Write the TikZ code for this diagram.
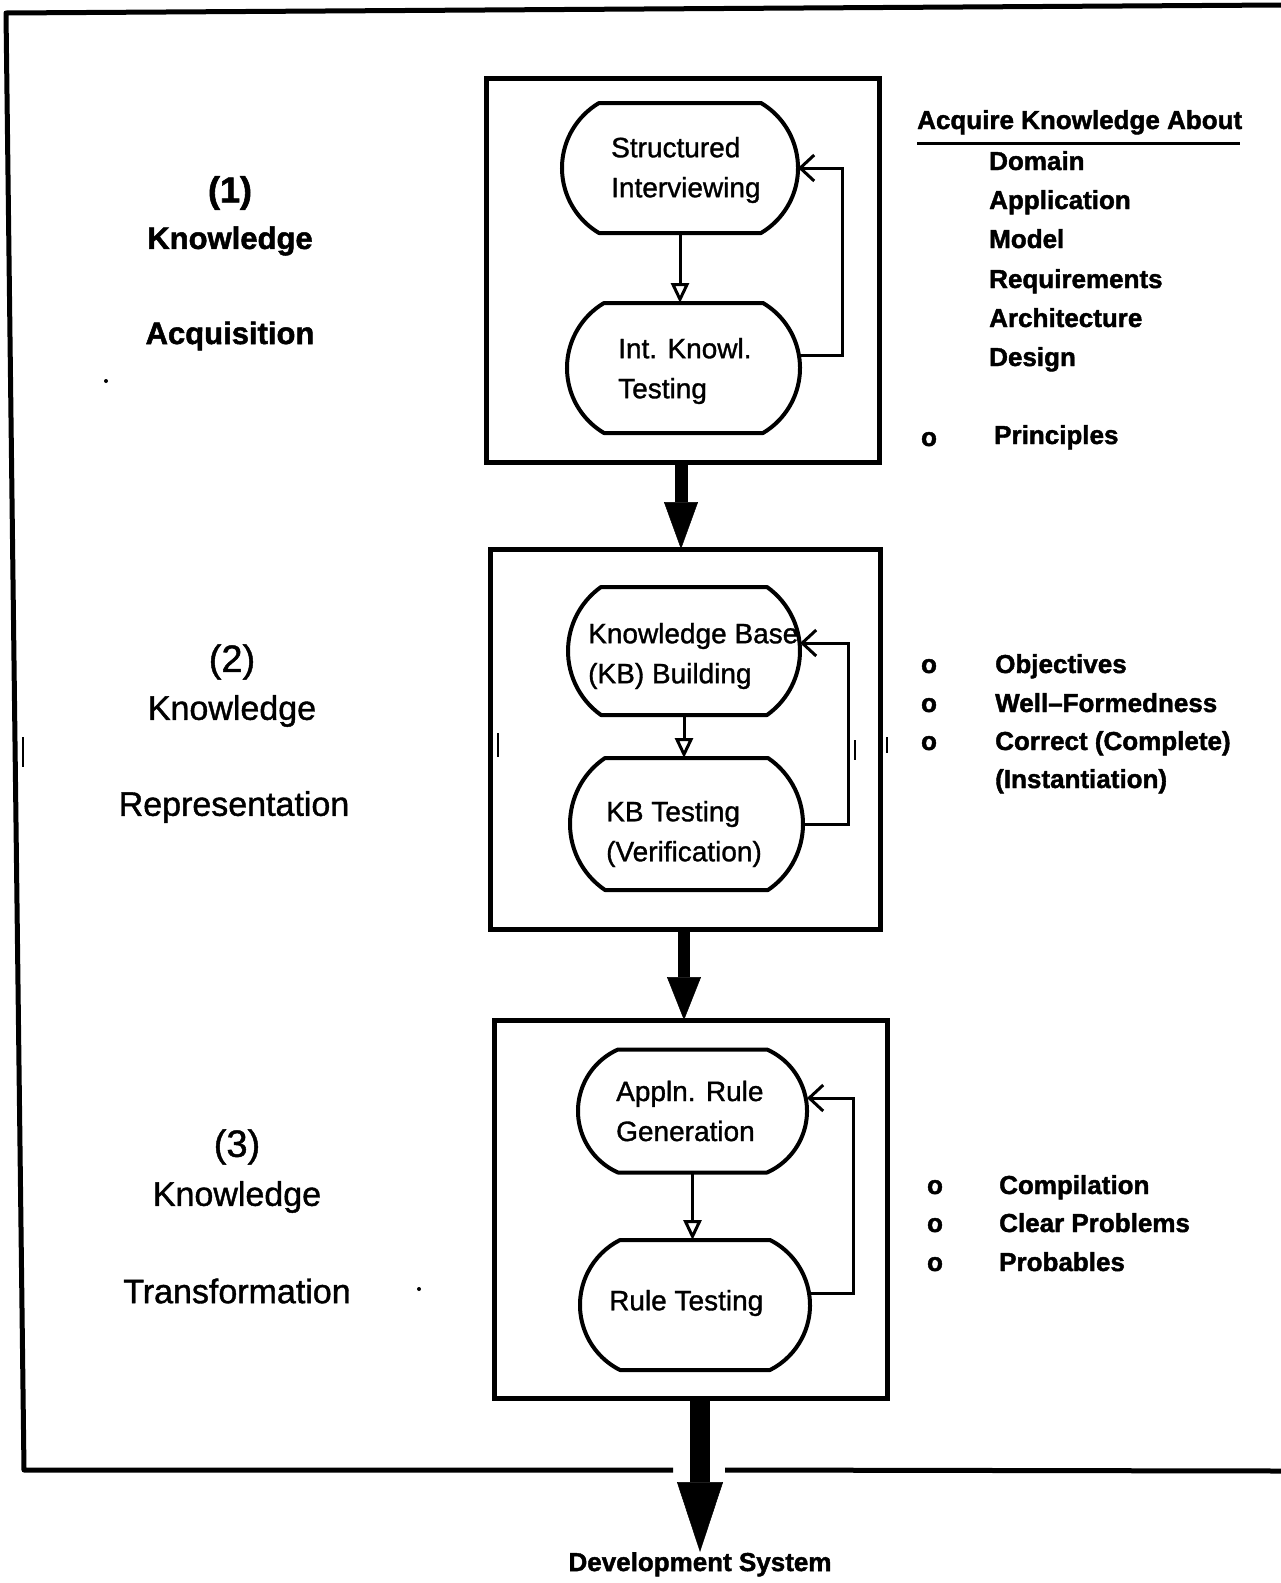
\documentclass[tikz,border=0pt]{standalone}
\usepackage{fontspec}
\setmainfont{Liberation Sans}
\newfontfamily\plotfont[FakeBold=1.2]{Liberation Sans}
\newfontfamily\plotbold[FakeBold=1.6]{Liberation Sans Bold}
\usetikzlibrary{arrows.meta}

% Rounded-end process shape: a plain node carries the anchors,
% the outline has a flat top/bottom and circular bulging ends.
\newcommand\procshape[6]{% name, cx, cy, width, height, end inset
  \node[minimum width=#4pt, minimum height=#5pt, inner sep=0pt, outer sep=0pt] (#1) at (#2,#3) {};
  \pgfmathsetmacro\psR{((#6)^2+(#5/2)^2)/(2*(#6))}
  \pgfmathsetmacro\psT{asin((#5/2)/\psR)}
  \draw[procline] ({#2-#4/2+#6},{#3-#5/2}) -- ({#2+#4/2-#6},{#3-#5/2})
     arc[start angle=-\psT, end angle=\psT, radius=\psR]
     -- ({#2-#4/2+#6},{#3+#5/2})
     arc[start angle=180-\psT, end angle=180+\psT, radius=\psR] -- cycle;
}

\begin{document}
\begin{tikzpicture}[x=1pt,y=-1pt,
  frame/.style={line width=5pt, line join=round},
  stagebox/.style={draw, line width=5pt, inner sep=0pt, outer sep=0pt},
  procline/.style={line width=4pt, line join=round},
  proctext/.style={anchor=west, align=left, font=\plotfont\fontsize{28}{40}\selectfont, inner sep=0pt},
  flow/.style={line width=3pt, -{Triangle[open, length=20pt, width=18pt]}},
  loopback/.style={line width=3pt, line join=miter, -{Straight Barb[length=14pt, width=26pt]}},
  bigflow/.style={-{Triangle[length=#1pt, width=34pt, line width=0.5pt]}},
  phase/.style={font=\plotfont\fontsize{34}{40}\selectfont, inner sep=0pt},
  phasebold/.style={font=\plotbold\fontsize{31}{36}\selectfont, inner sep=0pt},
  topic/.style={anchor=base west, font=\plotbold\fontsize{26}{30}\selectfont, inner sep=0pt},
  bullet/.style={anchor=base, font=\plotbold\fontsize{26}{30}\selectfont, inner sep=0pt},
  tick/.style={line width=2.5pt},
]
\useasboundingbox (0,0) rectangle (1281,1583);

% outer frame, open on the right
\coordinate (ftr) at (1281,5);
\coordinate (ftl) at (6,13);
\coordinate (fbl) at (24,1470);
\coordinate (fgl) at (673,1470);
\coordinate (fgr) at (725,1470);
\coordinate (fbr) at (1281,1471);
\draw[frame] (ftr) -- (ftl) -- (fbl) -- (fgl);
\draw[frame] (fgr) -- (fbr);

% stage boxes
\node[stagebox, minimum width=393pt, minimum height=384pt] (b1) at (682.5,270) {};
\node[stagebox, minimum width=390pt, minimum height=380pt] (b2) at (685,739) {};
\node[stagebox, minimum width=393pt, minimum height=378pt] (b3) at (690.5,1209) {};

% stage 1
\procshape{s1}{680}{168}{236}{130}{37}
\procshape{s2}{683.5}{368}{233}{130}{37}
\node[proctext] (s1t) at (611,170) {Structured\\Interviewing};
\node[proctext] (s2t) at (618,371) {Int. Knowl.\\Testing};
\draw[flow] (s1.south) -- (s1.south |- s2.north);
\draw[loopback] ([yshift=13pt]s2.east) -- ++(42,0) |- (s1.east);

% stage 2
\procshape{s3}{684}{651}{232}{128}{33}
\procshape{s4}{686.5}{824}{233}{132}{35}
\node[proctext] (s3t) at (588,656) {Knowledge Base\\(KB) Building};
\node[proctext] (s4t) at (606,834) {KB Testing\\(Verification)};
\draw[flow] (s3.south) -- (s3.south |- s4.north);
\draw[loopback] (s4.east) -- ++(45,0) |- ([yshift=8pt]s3.east);

% stage 3
\procshape{s5}{692.5}{1111}{229}{123}{40}
\procshape{s6}{695}{1305}{230}{130}{40}
\node[proctext] (s5t) at (616,1111) {Appln. Rule\\Generation};
\node[proctext] (s6t) at (609,1303) {Rule Testing};
\draw[flow] (s5.south) -- (s5.south |- s6.north);
\draw[loopback] ([yshift=12pt]s6.east) -- ++(43,0) |- ([yshift=13pt]s5.east);

% flow between stages
\node[font=\plotbold\fontsize{26}{30}\selectfont, inner sep=0pt, anchor=north] (dev) at (700,1552) {Development System};
\draw[bigflow=47, line width=13pt] (b1.south -| 681,0) -- (b2.north -| 681,0);
\draw[bigflow=43, line width=12pt] (b2.south -| 684,0) -- (b3.north -| 684,0);
\draw[-{Triangle[length=70pt, width=46pt, line width=0.5pt]}, line width=20pt] (b3.south -| dev.north) -- (dev.north);

% phase names
\node[phasebold, font=\plotbold\fontsize{36}{40}\selectfont] (p1n) at (230,193) {(1)};
\node[phasebold] (p1a) at (230,241) {Knowledge};
\node[phasebold] (p1b) at (230,336) {Acquisition};
\node[phase, font=\plotfont\fontsize{38}{40}\selectfont] (p2n) at (232,662) {(2)};
\node[phase] (p2a) at (232,711) {Knowledge};
\node[phase] (p2b) at (234,807) {Representation};
\node[phase, font=\plotfont\fontsize{38}{40}\selectfont] (p3n) at (237,1147) {(3)};
\node[phase] (p3a) at (237,1197) {Knowledge};
\node[phase] (p3b) at (237,1291) {Transformation};

% topics of stage 1
\node[topic] (hd) at (917,129) {Acquire Knowledge About};
\draw[line width=3pt] (hd.south west |- 0,143) -- (1240,143);
\node[topic] (t1) at (989,170) {Domain};
\node[topic] (t2) at (989,209) {Application};
\node[topic] (t3) at (989,248) {Model};
\node[topic] (t4) at (989,288) {Requirements};
\node[topic] (t5) at (989,327) {Architecture};
\node[topic] (t6) at (989,366) {Design};
\node[bullet] (o1) at (929,446) {o};
\node[topic] (t7) at (994,444) {Principles};

% topics of stage 2
\node[bullet] (o2) at (929,673) {o};
\node[bullet] (o3) at (929,712) {o};
\node[bullet] (o4) at (929,750) {o};
\node[topic] (u1) at (995,673) {Objectives};
\node[topic] (u2) at (995,712) {Well–Formedness};
\node[topic] (u3) at (995,750) {Correct (Complete)};
\node[topic] (u4) at (995,788) {(Instantiation)};

% topics of stage 3
\node[bullet] (o5) at (935,1194) {o};
\node[bullet] (o6) at (935,1232) {o};
\node[bullet] (o7) at (935,1271) {o};
\node[topic] (v1) at (999,1194) {Compilation};
\node[topic] (v2) at (999,1232) {Clear Problems};
\node[topic] (v3) at (999,1271) {Probables};

% small marks
\coordinate (k1a) at (23,737); \coordinate (k1b) at (23,767);
\coordinate (k2a) at (498,733); \coordinate (k2b) at (498,757);
\coordinate (k3a) at (855,740); \coordinate (k3b) at (855,760);
\coordinate (k4a) at (887,737); \coordinate (k4b) at (887,753);
\draw[tick] (k1a) -- (k1b);
\draw[tick] (k2a) -- (k2b);
\draw[tick] (k3a) -- (k3b);
\draw[tick] (k4a) -- (k4b);
\fill (106,381) circle (2);
\fill (419,1289) circle (2);
\end{tikzpicture}
\end{document}
